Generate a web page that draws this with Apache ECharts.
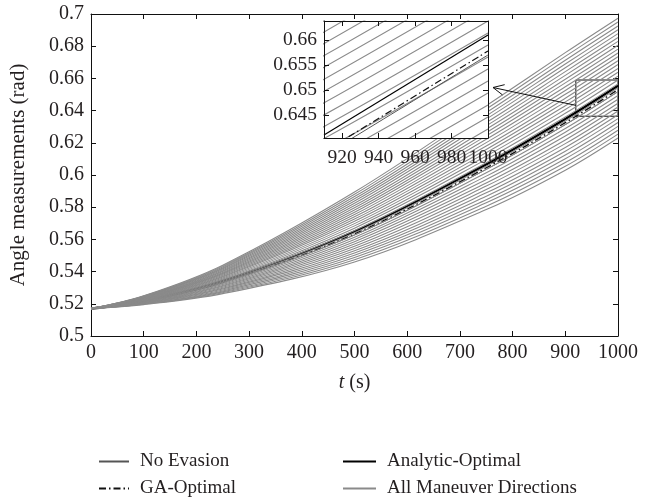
<!DOCTYPE html>
<html>
<head>
<meta charset="utf-8">
<script src="https://cdn.jsdelivr.net/npm/echarts@6/dist/echarts.min.js"></script>
<style>
html, body { margin: 0; padding: 0; background: #fff; }
#main { width: 658px; height: 500px; }
</style>
</head>
<body>
<div id="main"></div>
<script>
// time samples (s)
var times = [0, 100, 250, 500, 750, 900, 1000];
var startAngle = 0.517;

// grey fan: value at 100, 250, 500, 750, 900, 1000 s for each maneuver direction
var maneuverCurves = [
    [0.5195, 0.5263, 0.5460, 0.5785, 0.6030, 0.6230],
    [0.5197, 0.5269, 0.5474, 0.5806, 0.6054, 0.6254],
    [0.5199, 0.5274, 0.5488, 0.5827, 0.6077, 0.6278],
    [0.5200, 0.5280, 0.5502, 0.5847, 0.6101, 0.6302],
    [0.5202, 0.5286, 0.5516, 0.5868, 0.6124, 0.6326],
    [0.5204, 0.5292, 0.5530, 0.5889, 0.6148, 0.6350],
    [0.5206, 0.5297, 0.5544, 0.5910, 0.6171, 0.6374],
    [0.5207, 0.5303, 0.5558, 0.5931, 0.6195, 0.6398],
    [0.5209, 0.5309, 0.5572, 0.5951, 0.6218, 0.6422],
    [0.5211, 0.5314, 0.5586, 0.5972, 0.6242, 0.6446],
    [0.5213, 0.5320, 0.5600, 0.5993, 0.6266, 0.6470],
    [0.5214, 0.5326, 0.5614, 0.6014, 0.6289, 0.6494],
    [0.5216, 0.5332, 0.5628, 0.6035, 0.6313, 0.6518],
    [0.5218, 0.5337, 0.5642, 0.6055, 0.6336, 0.6542],
    [0.5220, 0.5343, 0.5656, 0.6076, 0.6360, 0.6566],
    [0.5222, 0.5349, 0.5670, 0.6097, 0.6383, 0.6590],
    [0.5223, 0.5354, 0.5684, 0.6118, 0.6407, 0.6614],
    [0.5225, 0.5360, 0.5698, 0.6139, 0.6430, 0.6638],
    [0.5227, 0.5366, 0.5712, 0.6159, 0.6454, 0.6662],
    [0.5229, 0.5371, 0.5726, 0.6180, 0.6477, 0.6686],
    [0.5230, 0.5377, 0.5740, 0.6201, 0.6501, 0.6710],
    [0.5232, 0.5383, 0.5754, 0.6222, 0.6525, 0.6734],
    [0.5234, 0.5389, 0.5768, 0.6243, 0.6548, 0.6758],
    [0.5236, 0.5394, 0.5782, 0.6263, 0.6572, 0.6782],
    [0.5237, 0.5400, 0.5796, 0.6284, 0.6595, 0.6806],
    [0.5239, 0.5406, 0.5810, 0.6305, 0.6619, 0.6830],
    [0.5241, 0.5411, 0.5824, 0.6326, 0.6642, 0.6854],
    [0.5243, 0.5417, 0.5838, 0.6347, 0.6666, 0.6878],
    [0.5245, 0.5423, 0.5852, 0.6367, 0.6689, 0.6902],
    [0.5246, 0.5429, 0.5866, 0.6388, 0.6713, 0.6926],
    [0.5248, 0.5434, 0.5880, 0.6409, 0.6737, 0.6950],
    [0.5250, 0.5440, 0.5894, 0.6430, 0.6760, 0.6974]
];
// highlighted curves as read on the main plot
var noEvasion       = [0.517, 0.5216, 0.5332, 0.5628, 0.6035, 0.6313, 0.6518];
var gaOptimal       = [0.517, 0.5217, 0.5335, 0.5635, 0.6045, 0.6325, 0.6530];
var analyticOptimal = [0.517, 0.5219, 0.5340, 0.5649, 0.6066, 0.6348, 0.6554];

// highlighted curves as read on the inset
var insetTimes      = [910, 1000];
var insetNoEvasion  = [0.6369, 0.6570];
var insetGaOptimal  = [0.6376, 0.6578];
var insetAnalytic   = [0.6410, 0.6610];

// inset window and the box marked on the main plot
var insetX = [910, 1000];
var insetY = [0.6404, 0.6638];
var insetXTicks = [920, 940, 960, 980, 1000];
var insetYTicks = [0.645, 0.65, 0.655, 0.66];
var zoomBoxX = [920, 1000];
var zoomBoxY = [0.6365, 0.659];

var serif = 'Liberation Serif';
var ink = '#231f20';

function pairs(ts, vals) {
    return ts.map(function (t, i) { return [t, vals[i]]; });
}

var myChart = echarts.init(document.getElementById('main'));

function lineSeries(name, data, color, width, type, grid, z) {
    return {
        name: name,
        type: 'line',
        xAxisIndex: grid * 2,
        yAxisIndex: grid * 2,
        data: data,
        smooth: 0.35,
        symbol: 'none',
        silent: true,
        animation: false,
        z: z,
        itemStyle: { color: color },
        lineStyle: { color: color, width: width, type: type }
    };
}

var dashDot = [7, 3, 1.5, 3];
var series = [];
[0, 1].forEach(function (g) {
    maneuverCurves.forEach(function (row, i) {
        var s = lineSeries('All Maneuver Directions', pairs(times, [startAngle].concat(row)),
            '#8a8a8a', 1.1, 'solid', g, g === 0 ? 6 : 10);
        if (g === 0 && i === 0) {
            s.markArea = {
                silent: true,
                itemStyle: { color: 'rgba(0,0,0,0)', borderColor: '#111', borderWidth: 1 },
                data: [[{ coord: [zoomBoxX[0], zoomBoxY[0]] }, { coord: [zoomBoxX[1], zoomBoxY[1]] }]]
            };
        }
        series.push(s);
    });
});
series.push(lineSeries('No Evasion', pairs(times, noEvasion), '#555', 1, 'solid', 0, 3));
series.push(lineSeries('GA-Optimal', pairs(times, gaOptimal), '#111', 1.4, dashDot, 0, 4));
series.push(lineSeries('Analytic-Optimal', pairs(times, analyticOptimal), '#000', 2.4, 'solid', 0, 5));
series.push(lineSeries('No Evasion', pairs(insetTimes, insetNoEvasion), '#555', 1, 'solid', 1, 11));
series.push(lineSeries('GA-Optimal', pairs(insetTimes, insetGaOptimal), '#111', 1.2, dashDot, 1, 12));
series.push(lineSeries('Analytic-Optimal', pairs(insetTimes, insetAnalytic), '#000', 1.2, 'solid', 1, 13));

function boxAxis(pos, grid, min, max, interval, showLabel, fontSize, extra) {
    var ax = {
        type: 'value',
        gridIndex: grid,
        position: pos,
        min: min,
        max: max,
        z: grid === 1 ? 14 : 0,
        axisLine: { show: true, onZero: false, lineStyle: { color: '#111', width: 1 } },
        axisTick: { show: true, inside: true, length: 5, lineStyle: { color: '#111' } },
        axisLabel: {
            show: showLabel,
            color: ink,
            fontFamily: serif,
            fontSize: fontSize,
            margin: 7,
            formatter: function (v) { return String(+v.toFixed(4)); }
        },
        splitLine: { show: false }
    };
    if (interval) ax.interval = interval;
    return Object.assign(ax, extra || {});
}

var mainX = boxAxis('bottom', 0, 0, 1000, 100, true, 20, {
    name: '{i|t} (s)',
    nameLocation: 'middle',
    nameGap: 37,
    nameTextStyle: {
        color: ink, fontFamily: serif, fontSize: 20,
        rich: { i: { fontStyle: 'italic', fontFamily: serif, fontSize: 20, color: ink } }
    }
});
var mainY = boxAxis('left', 0, 0.5, 0.7, 0.02, true, 20, {
    name: 'Angle measurements (rad)',
    nameLocation: 'middle',
    nameRotate: 90,
    nameGap: 62,
    nameTextStyle: { color: ink, fontFamily: serif, fontSize: 21 }
});
var insX = boxAxis('bottom', 1, insetX[0], insetX[1], null, true, 19.5);
insX.axisLabel.customValues = insetXTicks;
insX.axisTick.customValues = insetXTicks;
insX.axisLabel.margin = 10;
var insXTop = boxAxis('top', 1, insetX[0], insetX[1], null, false, 19);
insXTop.axisTick.customValues = insetXTicks;
var insY = boxAxis('left', 1, insetY[0], insetY[1], null, true, 19.5);
insY.axisLabel.customValues = insetYTicks;
insY.axisTick.customValues = insetYTicks;
var insYRight = boxAxis('right', 1, insetY[0], insetY[1], null, false, 19);
insYRight.axisTick.customValues = insetYTicks;

var legendText = { color: ink, fontFamily: serif, fontSize: 19, lineHeight: 19, padding: [0, 0, 0, 6] };
var legendCommon = {
    top: 452, orient: 'vertical', padding: 0, height: 60,
    itemHeight: 14, itemGap: 8,
    itemStyle: { color: 'rgba(0,0,0,0)', borderColor: 'rgba(0,0,0,0)', borderWidth: 0, opacity: 0 },
    textStyle: legendText, selectedMode: false
};

var option = {
    backgroundColor: '#fff',
    animation: false,
    grid: [
        { left: 91, top: 14, right: 40, bottom: 164 },
        { left: 324, top: 21, width: 164, height: 117, backgroundColor: '#fff', show: true, borderWidth: 0, z: 8 }
    ],
    xAxis: [
        mainX,
        boxAxis('top', 0, 0, 1000, 100, false, 20),
        insX,
        insXTop
    ],
    yAxis: [
        mainY,
        boxAxis('right', 0, 0.5, 0.7, 0.02, false, 20),
        insY,
        insYRight
    ],
    legend: [
        Object.assign({ left: 98, itemWidth: 30, data: ['No Evasion', 'GA-Optimal'] }, legendCommon),
        Object.assign({ left: 342, itemWidth: 33, data: ['Analytic-Optimal', 'All Maneuver Directions'] }, legendCommon)
    ],
    series: series
};

myChart.setOption(option);

// arrow from the marked box to the inset
var from = myChart.convertToPixel({ gridIndex: 0 }, [zoomBoxX[0], zoomBoxY[0] + (zoomBoxY[1] - zoomBoxY[0]) * 0.3]);
var to = myChart.convertToPixel({ gridIndex: 1 }, [insetX[1], 0.6505]);
to[0] += 5;
var dx = to[0] - from[0], dy = to[1] - from[1];
var len = Math.sqrt(dx * dx + dy * dy);
var ux = dx / len, uy = dy / len;
var head = 12, spread = 0.45;
function rot(a) {
    var c = Math.cos(a), s = Math.sin(a);
    return [to[0] - head * (ux * c - uy * s), to[1] - head * (ux * s + uy * c)];
}
myChart.setOption({
    graphic: [
        { type: 'line', shape: { x1: from[0], y1: from[1], x2: to[0], y2: to[1] }, style: { stroke: '#111', lineWidth: 1 }, z: 100 },
        { type: 'polyline', shape: { points: [rot(spread), to, rot(-spread)] }, style: { stroke: '#111', lineWidth: 1, fill: null }, z: 100 }
    ]
});

window.onresize = function () {
    myChart.resize();
};
</script>
</body>
</html>
